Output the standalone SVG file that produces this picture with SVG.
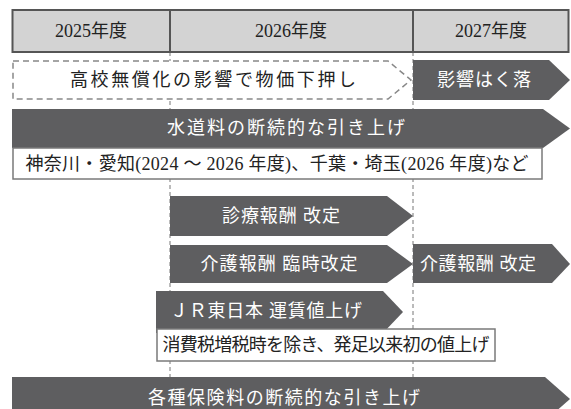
<svg xmlns="http://www.w3.org/2000/svg" width="571" height="409" viewBox="0 0 571 409">
<style>
text{font-family:"Liberation Serif","Noto Sans CJK JP",serif;font-size:18px;text-anchor:middle;dominant-baseline:central}
.dk{fill:#222}
.wt{fill:#fff}
.bar{fill:#5e5e60}
.box{fill:#fff;stroke:#7a7a7a;stroke-width:1.5}
.guide{stroke:#777;stroke-width:1;stroke-dasharray:4 3;fill:none}
</style>
<g id="guides">
<line class="guide" x1="170" y1="52" x2="170" y2="377"/>
<line class="guide" x1="413" y1="52" x2="413" y2="377"/>
</g>
<g id="header">
<rect x="12.5" y="10" width="556" height="42" fill="#d3d3d3" stroke="#555" stroke-width="2"/>
<line x1="170" y1="10" x2="170" y2="52" stroke="#555" stroke-width="2"/>
<line x1="413" y1="10" x2="413" y2="52" stroke="#555" stroke-width="2"/>
<text class="dk" x="91" y="31">2025年度</text>
<text class="dk" x="291" y="31">2026年度</text>
<text class="dk" x="491" y="31">2027年度</text>
</g>
<g id="n-koukou">
<path d="M13,61 H388 L411,80 L388,99 H13 Z" fill="#fff" stroke="#888" stroke-width="1.5" stroke-dasharray="6 4"/>
<text class="dk" x="213" y="80" textLength="286">高校無償化の影響で物価下押し</text>
</g>
<g id="n-eikyou">
<path class="bar" d="M413,60 H549 L570,80 L549,100 H413 Z"/>
<text class="wt" x="484" y="80" textLength="94">影響はく落</text>
</g>
<g id="n-suidou">
<path class="bar" d="M12,109 H543 L570,128.5 L543,148 H12 Z"/>
<text class="wt" x="286" y="128" textLength="238">水道料の断続的な引き上げ</text>
</g>
<g id="n-suidou-note">
<rect class="box" x="13" y="148" width="529" height="31"/>
<text class="dk" x="277" y="163.5" textLength="503">神奈川・愛知(2024 ～ 2026 年度)、千葉・埼玉(2026 年度)など</text>
</g>
<g id="n-shinryou">
<path class="bar" d="M170,196 H387 L413,216 L387,236 H170 Z"/>
<text class="wt" x="281" y="216" textLength="118">診療報酬 改定</text>
</g>
<g id="n-kaigo-rinji">
<path class="bar" d="M170,245 H387 L413,264 L387,283 H170 Z"/>
<text class="wt" x="279" y="264" textLength="157">介護報酬 臨時改定</text>
</g>
<g id="n-kaigo">
<path class="bar" d="M413,244 H552 L570,264 L552,283 H413 Z"/>
<text class="wt" x="478" y="264" textLength="116">介護報酬 改定</text>
</g>
<g id="n-jr">
<path class="bar" d="M156,291 H383 L403,312 L383,333 H156 Z"/>
<text class="wt" x="266" y="311" textLength="192">ＪＲ東日本 運賃値上げ</text>
</g>
<g id="n-jr-note">
<rect class="box" x="157" y="329" width="338" height="32"/>
<text class="dk" x="326" y="345" textLength="327">消費税増税時を除き、発足以来初の値上げ</text>
</g>
<g id="n-hoken">
<path class="bar" d="M12,377 H545 L570,399 L545,421 H12 Z"/>
<text class="wt" x="284" y="398" textLength="272">各種保険料の断続的な引き上げ</text>
</g>
<g id="connectors"></g>
</svg>
